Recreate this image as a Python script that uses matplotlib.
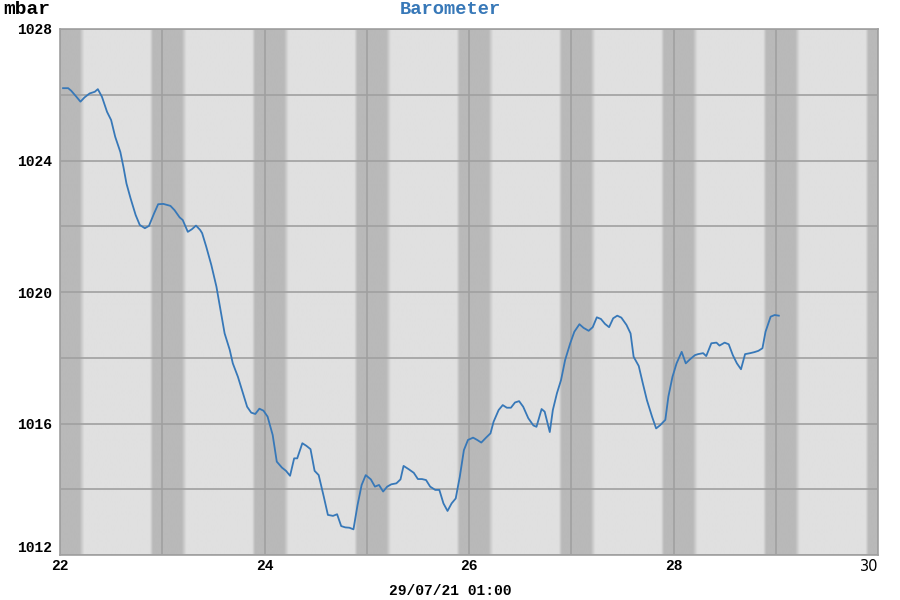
import numpy as np
import matplotlib
matplotlib.use("Agg")
import matplotlib.pyplot as plt

# ------------------------------
# Data (hourly barometer readings, day of month)
# ------------------------------
days = [22.03, 22.08, 22.11, 22.16, 22.20, 22.24, 22.29, 22.34, 22.37, 22.41,
        22.46, 22.50, 22.54, 22.59, 22.62, 22.65, 22.69, 22.74, 22.78, 22.83,
        22.87, 22.92, 22.96, 23.01, 23.08, 23.12, 23.17, 23.20, 23.25, 23.29,
        23.33, 23.37, 23.39, 23.43, 23.48, 23.53, 23.57, 23.61, 23.66, 23.69,
        23.74, 23.79, 23.83, 23.87, 23.91, 23.95, 23.99, 24.03, 24.08, 24.12,
        24.17, 24.21, 24.25, 24.29, 24.32, 24.37, 24.41, 24.45, 24.49, 24.53,
        24.58, 24.62, 24.67, 24.71, 24.75, 24.79, 24.83, 24.87, 24.91, 24.95,
        24.99, 25.04, 25.08, 25.12, 25.16, 25.20, 25.24, 25.29, 25.33, 25.36,
        25.41, 25.46, 25.50, 25.54, 25.58, 25.62, 25.67, 25.71, 25.75, 25.79,
        25.83, 25.87, 25.91, 25.95, 25.99, 26.04, 26.08, 26.12, 26.17, 26.21,
        26.24, 26.29, 26.33, 26.37, 26.41, 26.45, 26.49, 26.53, 26.58, 26.63,
        26.66, 26.71, 26.74, 26.79, 26.82, 26.86, 26.90, 26.94, 26.99, 27.03,
        27.08, 27.12, 27.17, 27.21, 27.25, 27.29, 27.33, 27.37, 27.41, 27.45,
        27.49, 27.54, 27.58, 27.61, 27.66, 27.70, 27.74, 27.79, 27.83, 27.87,
        27.92, 27.95, 27.99, 28.03, 28.08, 28.12, 28.16, 28.21, 28.24, 28.29,
        28.32, 28.37, 28.42, 28.45, 28.50, 28.54, 28.58, 28.62, 28.66, 28.70,
        28.75, 28.79, 28.83, 28.87, 28.90, 28.95, 28.99, 29.03]

pressure = [1026.20, 1026.20, 1026.12, 1025.94, 1025.79, 1025.92, 1026.04, 1026.09, 1026.17, 1025.94,
            1025.48, 1025.23, 1024.72, 1024.26, 1023.81, 1023.30, 1022.85, 1022.34, 1022.04, 1021.94,
            1022.01, 1022.39, 1022.67, 1022.68, 1022.62, 1022.49, 1022.27, 1022.19, 1021.83, 1021.91,
            1022.02, 1021.89, 1021.79, 1021.38, 1020.82, 1020.16, 1019.45, 1018.74, 1018.24, 1017.83,
            1017.42, 1016.92, 1016.51, 1016.33, 1016.29, 1016.45, 1016.39, 1016.21, 1015.65, 1014.84,
            1014.66, 1014.56, 1014.41, 1014.94, 1014.94, 1015.40, 1015.32, 1015.22, 1014.56, 1014.43,
            1013.77, 1013.22, 1013.19, 1013.24, 1012.88, 1012.84, 1012.83, 1012.78, 1013.52, 1014.13,
            1014.43, 1014.30, 1014.08, 1014.13, 1013.93, 1014.08, 1014.15, 1014.18, 1014.30, 1014.71,
            1014.61, 1014.50, 1014.31, 1014.31, 1014.28, 1014.08, 1013.98, 1013.98, 1013.57, 1013.34,
            1013.57, 1013.72, 1014.38, 1015.19, 1015.50, 1015.57, 1015.50, 1015.42, 1015.58, 1015.70,
            1016.05, 1016.41, 1016.56, 1016.48, 1016.48, 1016.64, 1016.68, 1016.51, 1016.16, 1015.94,
            1015.90, 1016.44, 1016.36, 1015.74, 1016.41, 1016.92, 1017.32, 1017.93, 1018.44, 1018.79,
            1019.02, 1018.91, 1018.82, 1018.93, 1019.23, 1019.18, 1019.03, 1018.93, 1019.20, 1019.28,
            1019.22, 1019.00, 1018.74, 1018.03, 1017.75, 1017.22, 1016.71, 1016.21, 1015.85, 1015.95,
            1016.11, 1016.82, 1017.42, 1017.83, 1018.18, 1017.83, 1017.95, 1018.08, 1018.11, 1018.14,
            1018.05, 1018.44, 1018.46, 1018.37, 1018.46, 1018.41, 1018.08, 1017.83, 1017.65, 1018.11,
            1018.14, 1018.17, 1018.21, 1018.29, 1018.79, 1019.25, 1019.30, 1019.28]

x_ticks = [22, 24, 26, 28, 30]
y_ticks = [1012, 1016, 1020, 1024, 1028]
x_label = "29/07/21 01:00"

# night shading (hours): dusk ramp start, full dark, dawn, light
dusk_start, dark_start, dark_end, dawn_end = 21.1, 21.8, 4.6, 5.7

mono = "Liberation Mono"

fig = plt.figure(figsize=(9, 6), dpi=100)
ax = fig.add_axes([60 / 900, 45 / 600, 818 / 900, 526 / 600])

# ------------------------------
# Background day/night bands
# ------------------------------
xs = np.linspace(22, 30, 4000)
h = (xs % 1) * 24
t = np.zeros_like(xs)
t[(h >= dark_start) | (h <= dark_end)] = 1
m = (h > dusk_start) & (h < dark_start)
t[m] = (h[m] - dusk_start) / (dark_start - dusk_start)
m = (h > dark_end) & (h < dawn_end)
t[m] = (dawn_end - h[m]) / (dawn_end - dark_end)
light, dark = 0.878, 0.725
shade = light - t * (light - dark)
ax.imshow(shade[np.newaxis, :], cmap="gray", vmin=0, vmax=1, aspect="auto",
          extent=[22, 30, 1012, 1028], interpolation="bilinear", zorder=0)

# ------------------------------
# Line
# ------------------------------
ax.plot(days, pressure, color="#3778b8", linewidth=1.3, zorder=3)

ax.set_xlim(22, 30)
ax.set_ylim(1012, 1028)
ax.set_xticks(x_ticks)
ax.set_xticks(np.arange(22, 31, 1), minor=True)
ax.set_yticks(y_ticks)
ax.set_yticks(np.arange(1012, 1029, 2), minor=True)
ax.set_axisbelow(True)
ax.grid(True, which="both", color="#a0a0a0", linewidth=1.2)
ax.tick_params(which="both", length=0)
ax.tick_params(axis="x", pad=3)
ax.tick_params(axis="y", pad=6)

for lbl in ax.get_yticklabels():
    lbl.set_fontfamily(mono)
    lbl.set_fontweight("bold")
    lbl.set_fontsize(10.5)
ax.get_yticklabels()[0].set_verticalalignment("bottom")

xlbls = ax.get_xticklabels()
for lbl in xlbls[:-1]:
    lbl.set_fontfamily(mono)
    lbl.set_fontweight("bold")
    lbl.set_fontsize(10.5)
xlbls[-1].set_fontsize(10.5)
xlbls[-1].set_horizontalalignment("right")

for s in ax.spines.values():
    s.set_color("#a0a0a0")
    s.set_linewidth(1.2)

fig.text(0.5, 1 - 10 / 600, "Barometer", ha="center", va="center",
         family=mono, weight="bold", size=13.5, color="#3778b8")
fig.text(3 / 900, 1 - 10 / 600, "mbar", ha="left", va="center",
         family=mono, weight="bold", size=14, color="black")
fig.text(0.5, 1 - 591 / 600, x_label, ha="center", va="center",
         family=mono, weight="bold", size=10.5, color="black")

fig.savefig("out.png", dpi=100)
